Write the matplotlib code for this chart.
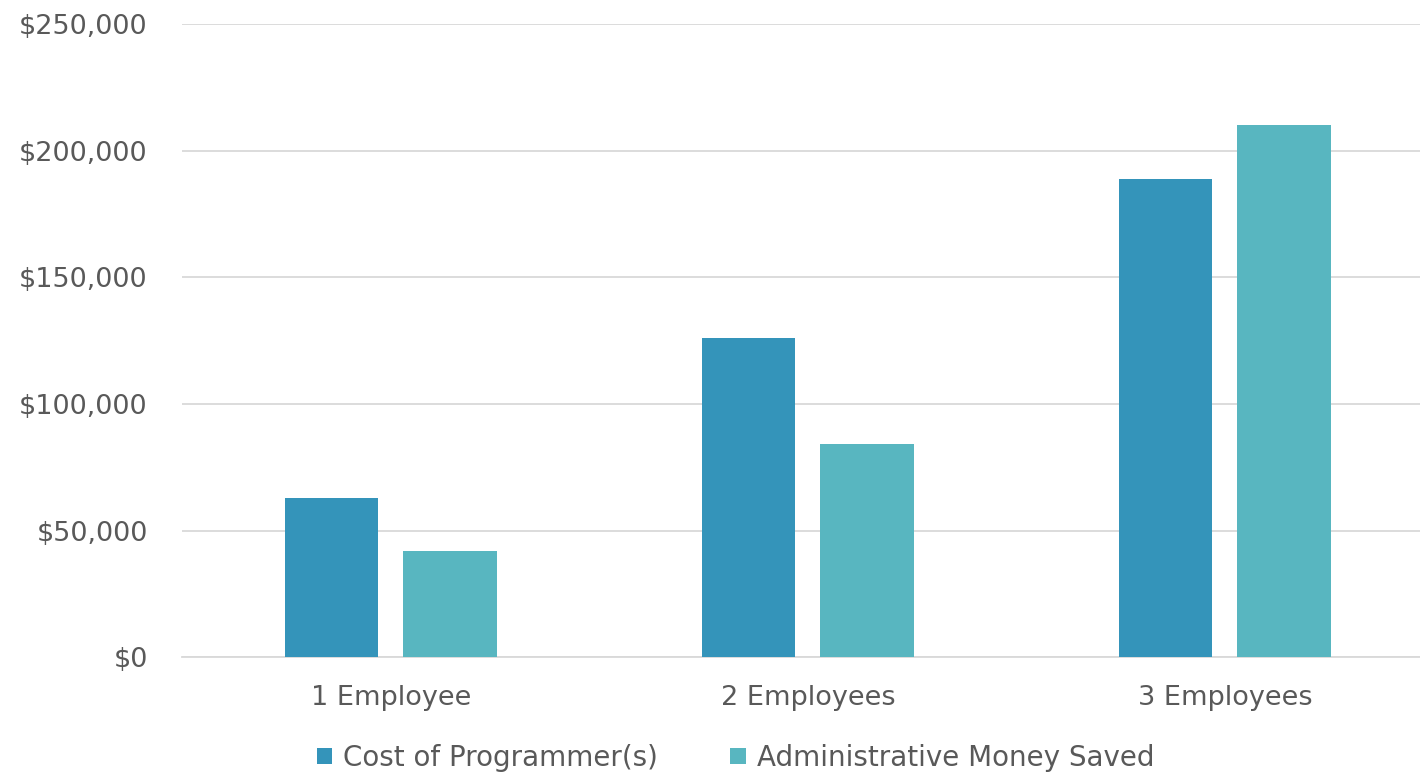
import matplotlib
matplotlib.use("Agg")
import matplotlib.pyplot as plt
from matplotlib.ticker import FuncFormatter
import numpy as np

# ── Data ──────────────────────────────────────────────────────────────────────
categories = ["1 Employee", "2 Employees", "3 Employees"]
cost_programmers = [63000, 126000, 189000]
admin_saved = [42000, 84000, 210000]
series_names = ["Cost of Programmer(s)", "Administrative Money Saved"]

# ── Style ─────────────────────────────────────────────────────────────────────
C_COST = "#3494BA"
C_SAVED = "#58B6C0"
TEXT_C = "#595959"
GRID_C = "#D9D9D9"

plt.rcParams.update({
    "font.family": ["DejaVu Sans"],
    "font.size": 19.5,
})

fig = plt.figure(figsize=(14.2, 7.75), dpi=100)
ax = fig.add_axes([0.1285, 0.152, 0.881, 0.817])

x = np.arange(len(categories))
w = 0.224
off = 0.142
ax.bar(x - off, cost_programmers, width=w, color=C_COST, zorder=3,
       label=series_names[0])
ax.bar(x + off, admin_saved, width=w, color=C_SAVED, zorder=3,
       label=series_names[1])

ax.set_xlim(-0.5, len(categories) - 0.5)
ax.set_ylim(0, 250000)
ax.set_yticks(np.arange(0, 250001, 50000))
ax.yaxis.set_major_formatter(FuncFormatter(lambda v, p: f"${v:,.0f}"))
ax.set_xticks(x)
ax.set_xticklabels(categories)

ax.yaxis.grid(True, color=GRID_C, linewidth=1.3, zorder=0)
ax.set_axisbelow(True)
for s in ("top", "right", "left"):
    ax.spines[s].set_visible(False)
ax.spines["bottom"].set_color(GRID_C)
ax.spines["bottom"].set_linewidth(1.3)
ax.tick_params(axis="both", length=0, colors=TEXT_C, labelsize=19.5)
ax.tick_params(axis="x", pad=20)
ax.tick_params(axis="y", pad=25)

fig.legend(loc="lower center", bbox_to_anchor=(0.518, -0.028), ncol=2,
           frameon=False, fontsize=20, labelcolor=TEXT_C,
           handlelength=0.55, handleheight=0.55, handletextpad=0.4,
           columnspacing=2.6)

fig.savefig("out.png", dpi=100, facecolor="white")
